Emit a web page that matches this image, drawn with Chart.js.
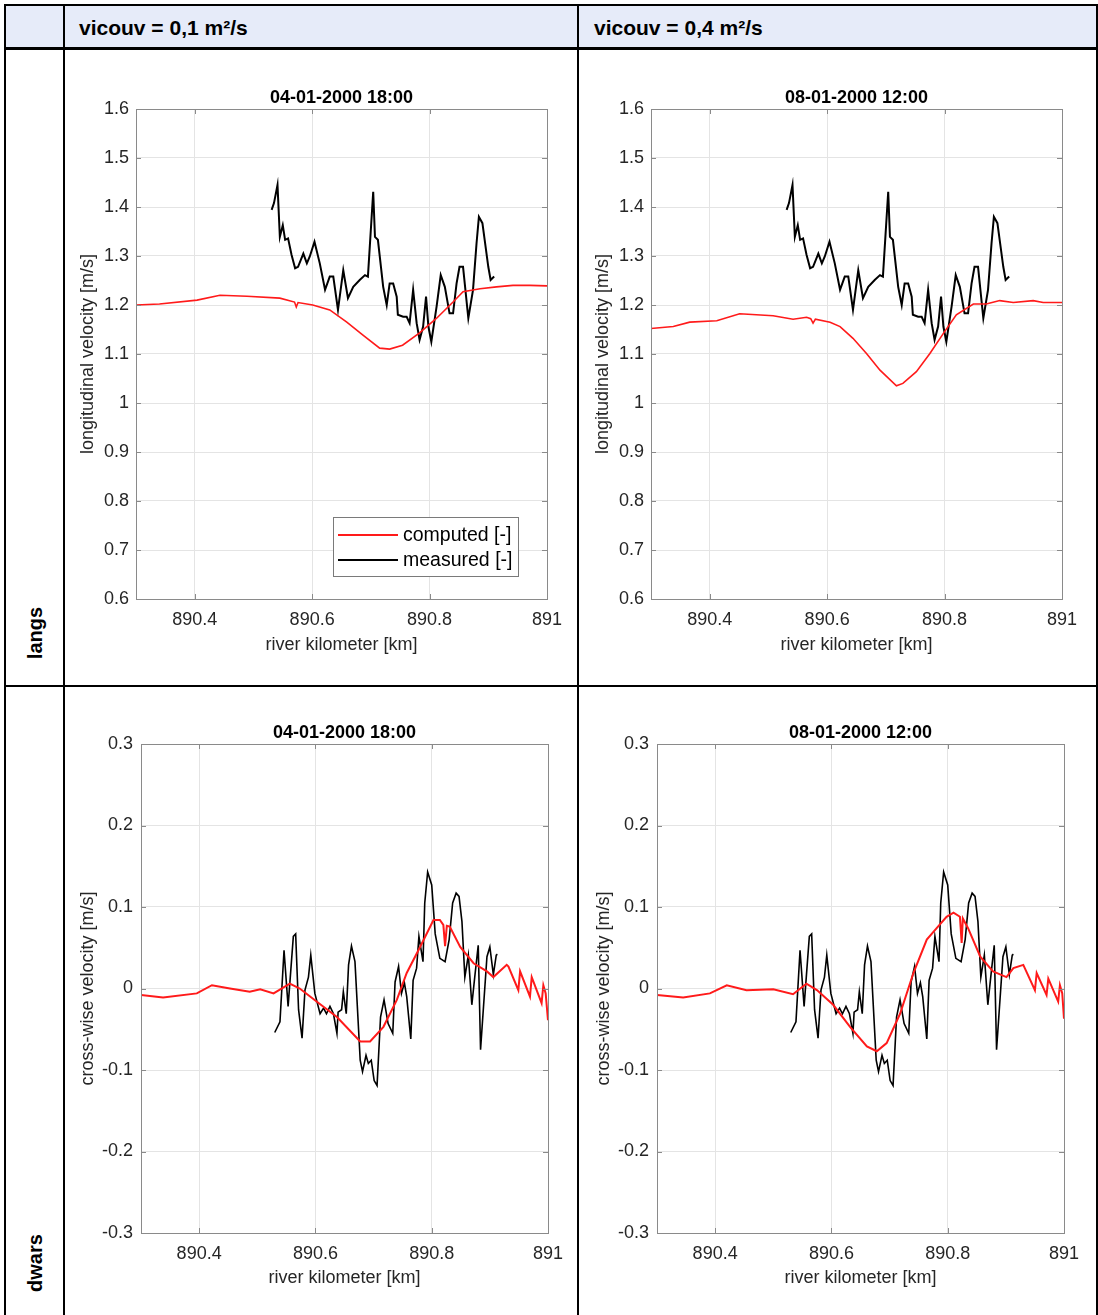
<!DOCTYPE html>
<html>
<head>
<meta charset="utf-8">
<script src="https://cdn.jsdelivr.net/npm/chart.js@4.4.1/dist/chart.umd.min.js"></script>
<style>
  html, body { margin: 0; padding: 0; background: #fff; }
  body { width: 1098px; height: 1315px; position: relative; overflow: hidden;
         font-family: "Liberation Sans", Arial, sans-serif; }
  .ln { position: absolute; background: #000; }
  .hdr { position: absolute; left: 6px; top: 6px; width: 1090px; height: 41px; background: #e6ebf9; }
  .htxt { position: absolute; top: 16px; font-weight: bold; font-size: 21px; color: #000; }
  .rowlbl { position: absolute; font-weight: bold; font-size: 20px; color: #000;
            transform: translate(-50%, -50%) rotate(-90deg); white-space: nowrap; }
  canvas { position: absolute; }
</style>
</head>
<body>
  <div class="hdr"></div>
  <div class="htxt" style="left:79px">vicouv = 0,1 m²/s</div>
  <div class="htxt" style="left:594px">vicouv = 0,4 m²/s</div>

  <div class="rowlbl" style="left:35px; top:633px">langs</div>
  <div class="rowlbl" style="left:35px; top:1263px">dwars</div>

  <!-- table rules -->
  <div class="ln" style="left:4px; top:4px; width:1094px; height:2px"></div>
  <div class="ln" style="left:4px; top:47px; width:1094px; height:3px"></div>
  <div class="ln" style="left:4px; top:685px; width:1094px; height:2px"></div>
  <div class="ln" style="left:4px; top:4px; width:2px; height:1311px"></div>
  <div class="ln" style="left:63px; top:4px; width:2px; height:1311px"></div>
  <div class="ln" style="left:577px; top:4px; width:2px; height:1311px"></div>
  <div class="ln" style="left:1096px; top:4px; width:2px; height:1311px"></div>

  <canvas id="langs01" width="510" height="633" style="left:66px; top:51px"></canvas>
  <canvas id="langs04" width="516" height="633" style="left:580px; top:51px"></canvas>
  <canvas id="dwars01" width="510" height="627" style="left:66px; top:688px"></canvas>
  <canvas id="dwars04" width="516" height="627" style="left:580px; top:688px"></canvas>

<script>
// ── DATA ──────────────────────────────────────────
const kmTicks    = [890.4, 890.6, 890.8, 891];
const langsTicks = [0.6, 0.7, 0.8, 0.9, 1.0, 1.1, 1.2, 1.3, 1.4, 1.5, 1.6];
const dwarsTicks = [-0.3, -0.2, -0.1, 0, 0.1, 0.2, 0.3];

// longitudinal, measured (same survey in both columns)
const langsMeasKm = [890.531, 890.535, 890.541, 890.545, 890.550, 890.554, 890.559, 890.565, 890.571, 890.576,
  890.585, 890.591, 890.596, 890.604, 890.613, 890.622, 890.630, 890.636, 890.644, 890.653,
  890.661, 890.670, 890.681, 890.690, 890.695, 890.704, 890.707, 890.712, 890.721, 890.727,
  890.732, 890.738, 890.744, 890.746, 890.755, 890.761, 890.766, 890.772, 890.778, 890.783,
  890.789, 890.794, 890.798, 890.803, 890.812, 890.819, 890.826, 890.834, 890.840, 890.846,
  890.851, 890.857, 890.866, 890.874, 890.880, 890.884, 890.890, 890.900, 890.904, 890.910];
const langsMeasVel = [1.394, 1.408, 1.445, 1.339, 1.363, 1.333, 1.336, 1.302, 1.275, 1.278,
  1.305, 1.285, 1.299, 1.329, 1.285, 1.231, 1.258, 1.258, 1.190, 1.271,
  1.214, 1.237, 1.251, 1.261, 1.258, 1.431, 1.339, 1.333, 1.237, 1.200,
  1.244, 1.244, 1.217, 1.180, 1.176, 1.176, 1.163, 1.231, 1.163, 1.129,
  1.156, 1.217, 1.156, 1.125, 1.197, 1.261, 1.237, 1.183, 1.183, 1.244,
  1.278, 1.278, 1.173, 1.231, 1.326, 1.380, 1.367, 1.278, 1.251, 1.258];

// longitudinal, computed, vicouv = 0.1
const langsComp01Km = [890.300, 890.340, 890.404, 890.443, 890.489, 890.545, 890.570, 890.573, 890.576, 890.601,
  890.630, 890.659, 890.686, 890.715, 890.732, 890.754, 890.783, 890.812, 890.840, 890.857,
  890.886, 890.914, 890.942, 890.971, 891.000];
const langsComp01Vel = [1.200, 1.202, 1.210, 1.220, 1.218, 1.214, 1.206, 1.196, 1.205, 1.200,
  1.190, 1.165, 1.139, 1.112, 1.110, 1.118, 1.143, 1.173, 1.206, 1.227,
  1.233, 1.237, 1.240, 1.240, 1.239];

// longitudinal, computed, vicouv = 0.4
const langsComp04Km = [890.300, 890.338, 890.366, 890.412, 890.451, 890.508, 890.542, 890.565, 890.572, 890.576,
  890.580, 890.605, 890.622, 890.644, 890.667, 890.690, 890.718, 890.729, 890.752, 890.775,
  890.798, 890.820, 890.849, 890.871, 890.894, 890.917, 890.951, 890.968, 891.000];
const langsComp04Vel = [1.152, 1.156, 1.165, 1.168, 1.182, 1.178, 1.171, 1.175, 1.172, 1.163,
  1.171, 1.165, 1.156, 1.132, 1.101, 1.067, 1.035, 1.040, 1.064, 1.101,
  1.142, 1.180, 1.202, 1.202, 1.209, 1.205, 1.209, 1.205, 1.205];

// cross-wise, measured
const dwarsMeasKm = [890.530, 890.539, 890.546, 890.553, 890.562, 890.566, 890.571, 890.577, 890.582, 890.588,
  890.592, 890.599, 890.608, 890.614, 890.619, 890.625, 890.631, 890.637, 890.639, 890.645,
  890.648, 890.653, 890.657, 890.662, 890.668, 890.677, 890.681, 890.687, 890.691, 890.696,
  890.701, 890.706, 890.712, 890.718, 890.725, 890.733, 890.737, 890.743, 890.748, 890.753,
  890.757, 890.764, 890.768, 890.774, 890.778, 890.785, 890.788, 890.793, 890.800, 890.806,
  890.814, 890.823, 890.830, 890.836, 890.842, 890.847, 890.852, 890.857, 890.863, 890.869,
  890.874, 890.880, 890.884, 890.895, 890.900, 890.906, 890.911, 890.913];
const dwarsMeasVel = [-0.054, -0.041, 0.047, -0.022, 0.064, 0.067, -0.026, -0.061, -0.002, 0.014,
  0.041, -0.006, -0.031, -0.024, -0.031, -0.022, -0.031, -0.055, -0.029, -0.026,
  -0.004, -0.031, 0.029, 0.052, 0.033, -0.088, -0.102, -0.082, -0.092, -0.088,
  -0.113, -0.119, -0.035, -0.014, -0.043, -0.055, 0.008, 0.027, -0.006, 0.007,
  -0.010, -0.062, 0.010, 0.025, 0.064, 0.033, 0.105, 0.143, 0.127, 0.067,
  0.037, 0.033, 0.060, 0.105, 0.117, 0.113, 0.082, 0.014, 0.041, -0.020,
  0.014, 0.053, -0.075, 0.039, 0.051, 0.017, 0.041, 0.042];

// cross-wise, computed, vicouv = 0.1
const dwarsComp01Km = [890.300, 890.338, 890.396, 890.422, 890.453, 890.487, 890.505, 890.528, 890.556, 890.573,
  890.602, 890.637, 890.677, 890.694, 890.717, 890.740, 890.757, 890.780, 890.803, 890.814,
  890.820, 890.823, 890.826, 890.831, 890.849, 890.872, 890.895, 890.906, 890.929, 890.932,
  890.949, 890.952, 890.969, 890.972, 890.989, 890.992, 890.996, 891.000];
const dwarsComp01Vel = [-0.008, -0.011, -0.006, 0.004, 0.000, -0.004, -0.001, -0.006, 0.006, 0.000,
  -0.016, -0.035, -0.065, -0.065, -0.047, -0.014, 0.019, 0.051, 0.084, 0.084,
  0.078, 0.052, 0.077, 0.076, 0.051, 0.031, 0.021, 0.014, 0.029, 0.027,
  -0.002, 0.021, -0.010, 0.014, -0.018, 0.004, -0.006, -0.039];

// cross-wise, computed, vicouv = 0.4
const dwarsComp04Km = [890.300, 890.345, 890.391, 890.420, 890.454, 890.500, 890.534, 890.557, 890.575, 890.603,
  890.632, 890.661, 890.678, 890.695, 890.718, 890.741, 890.764, 890.781, 890.798, 890.810,
  890.821, 890.824, 890.826, 890.835, 890.856, 890.878, 890.901, 890.913, 890.930, 890.950,
  890.953, 890.970, 890.973, 890.990, 890.993, 890.997, 891.000];
const dwarsComp04Vel = [-0.008, -0.011, -0.006, 0.004, -0.002, -0.001, -0.007, 0.006, -0.002, -0.020,
  -0.047, -0.071, -0.077, -0.067, -0.031, 0.019, 0.060, 0.074, 0.088, 0.093,
  0.088, 0.056, 0.086, 0.074, 0.039, 0.021, 0.014, 0.025, 0.029, -0.002,
  0.019, -0.008, 0.012, -0.016, 0.004, -0.006, -0.037];

// ── HELPERS ───────────────────────────────────────
const $ = id => document.getElementById(id);
const pts = (xs, ys) => xs.map((x, i) => ({ x, y: ys[i] }));
const fmt = v => String(parseFloat(v.toFixed(2)));
const FONT = '"Liberation Sans", Arial, sans-serif';

// MATLAB-ish axes: box, inward ticks, title, legend
const matlabAxes = {
  id: 'matlabAxes',
  afterDraw(chart, args, opts) {
    const { ctx, chartArea: a, scales } = chart;
    const tl = 5;
    ctx.save();
    ctx.strokeStyle = '#8a8a8a';
    ctx.lineWidth = 1;
    ctx.beginPath();
    scales.x.ticks.forEach(t => {
      const px = Math.round(scales.x.getPixelForValue(t.value)) + 0.5;
      ctx.moveTo(px, a.bottom); ctx.lineTo(px, a.bottom - tl);
      ctx.moveTo(px, a.top);    ctx.lineTo(px, a.top + tl);
    });
    scales.y.ticks.forEach(t => {
      const py = Math.round(scales.y.getPixelForValue(t.value)) + 0.5;
      ctx.moveTo(a.left, py);  ctx.lineTo(a.left + tl, py);
      ctx.moveTo(a.right, py); ctx.lineTo(a.right - tl, py);
    });
    ctx.stroke();
    ctx.strokeRect(Math.round(a.left) + 0.5, Math.round(a.top) + 0.5,
                   Math.round(a.right - a.left), Math.round(a.bottom - a.top));

    // title
    ctx.fillStyle = '#000';
    ctx.font = 'bold 18px ' + FONT;
    ctx.textAlign = 'center';
    ctx.textBaseline = 'middle';
    ctx.fillText(opts.title, (a.left + a.right) / 2, a.top - 11);

    // legend
    if (opts.legend) {
      const w = 185, h = 59;
      const x0 = a.right - 29 - w, y0 = a.bottom - 23 - h;
      ctx.fillStyle = '#fff';
      ctx.fillRect(x0, y0, w, h);
      ctx.strokeStyle = '#7a7a7a';
      ctx.strokeRect(x0 + 0.5, y0 + 0.5, w, h);
      ctx.font = '19.5px ' + FONT;
      ctx.textAlign = 'left';
      chart.data.datasets.forEach((ds, i) => {
        const yy = y0 + 18 + i * 25;
        ctx.strokeStyle = ds.borderColor;
        ctx.lineWidth = 1.8;
        ctx.beginPath();
        ctx.moveTo(x0 + 5, yy); ctx.lineTo(x0 + 65, yy);
        ctx.stroke();
        ctx.fillStyle = '#000';
        ctx.fillText(ds.label, x0 + 70, yy + 1);
      });
    }
    ctx.restore();
  }
};

// ── PANELS ────────────────────────────────────────
function buildPanel(id, cfg) {
  return new Chart($(id), {
    type: 'line',
    data: {
      datasets: [
        {
          label: 'computed [-]',
          data: pts(cfg.compKm, cfg.compVel),
          borderColor: '#ff1a1a',
          borderWidth: cfg.redWidth,
          pointRadius: 0,
          tension: 0
        },
        {
          label: 'measured [-]',
          data: pts(cfg.measKm, cfg.measVel),
          borderColor: '#000000',
          borderWidth: cfg.blackWidth,
          pointRadius: 0,
          tension: 0
        }
      ]
    },
    options: {
      responsive: false,
      animation: false,
      events: [],
      layout: { padding: { top: cfg.top, right: cfg.right, left: 0, bottom: 0 } },
      plugins: {
        legend: { display: false },
        tooltip: { enabled: false },
        matlabAxes: { title: cfg.title, legend: cfg.legend }
      },
      scales: {
        x: {
          type: 'linear',
          min: 890.3,
          max: 891,
          afterBuildTicks: s => { s.ticks = kmTicks.map(v => ({ value: v })); },
          afterFit: s => { s.height = cfg.xh; },
          border: { display: false },
          grid: { color: '#e4e4e4', drawTicks: false },
          ticks: {
            padding: 10,
            maxRotation: 0,
            color: '#262626',
            font: { family: FONT, size: 18 },
            callback: v => fmt(v)
          },
          title: {
            display: true,
            text: 'river kilometer [km]',
            color: '#262626',
            font: { family: FONT, size: 18 },
            padding: { top: 0, bottom: cfg.xtPad }
          }
        },
        y: {
          type: 'linear',
          min: cfg.yTicks[0],
          max: cfg.yTicks[cfg.yTicks.length - 1],
          afterBuildTicks: s => { s.ticks = cfg.yTicks.map(v => ({ value: v })); },
          afterFit: s => { s.width = cfg.yw; },
          border: { display: false },
          grid: { color: '#e4e4e4', drawTicks: false },
          ticks: {
            padding: cfg.ytickPad,
            color: '#262626',
            font: { family: FONT, size: 18 },
            callback: v => fmt(v)
          },
          title: {
            display: true,
            text: cfg.yTitle,
            color: '#262626',
            font: { family: FONT, size: 18 },
            padding: { top: cfg.ytPad, bottom: 0 }
          }
        }
      }
    },
    plugins: [matlabAxes]
  });
}

// ── INIT ──────────────────────────────────────────
const langsTitle = 'longitudinal velocity [m/s]';
const dwarsTitle = 'cross-wise velocity [m/s]';

buildPanel('langs01', {
  title: '04-01-2000 18:00', legend: true,
  compKm: langsComp01Km, compVel: langsComp01Vel, measKm: langsMeasKm, measVel: langsMeasVel,
  yTicks: langsTicks, yTitle: langsTitle,
  top: 58, right: 29, xh: 85, yw: 70, ytickPad: 7, ytPad: 11, xtPad: 28,
  redWidth: 1.6, blackWidth: 2
});
buildPanel('langs04', {
  title: '08-01-2000 12:00', legend: false,
  compKm: langsComp04Km, compVel: langsComp04Vel, measKm: langsMeasKm, measVel: langsMeasVel,
  yTicks: langsTicks, yTitle: langsTitle,
  top: 58, right: 34, xh: 85, yw: 71, ytickPad: 7, ytPad: 12, xtPad: 28,
  redWidth: 1.6, blackWidth: 2
});
buildPanel('dwars01', {
  title: '04-01-2000 18:00', legend: false,
  compKm: dwarsComp01Km, compVel: dwarsComp01Vel, measKm: dwarsMeasKm, measVel: dwarsMeasVel,
  yTicks: dwarsTicks, yTitle: dwarsTitle,
  top: 56, right: 28, xh: 82, yw: 75, ytickPad: 8, ytPad: 11, xtPad: 26,
  redWidth: 2, blackWidth: 1.6
});
buildPanel('dwars04', {
  title: '08-01-2000 12:00', legend: false,
  compKm: dwarsComp04Km, compVel: dwarsComp04Vel, measKm: dwarsMeasKm, measVel: dwarsMeasVel,
  yTicks: dwarsTicks, yTitle: dwarsTitle,
  top: 56, right: 32, xh: 82, yw: 77, ytickPad: 8, ytPad: 13, xtPad: 26,
  redWidth: 2, blackWidth: 1.6
});
</script>
</body>
</html>
